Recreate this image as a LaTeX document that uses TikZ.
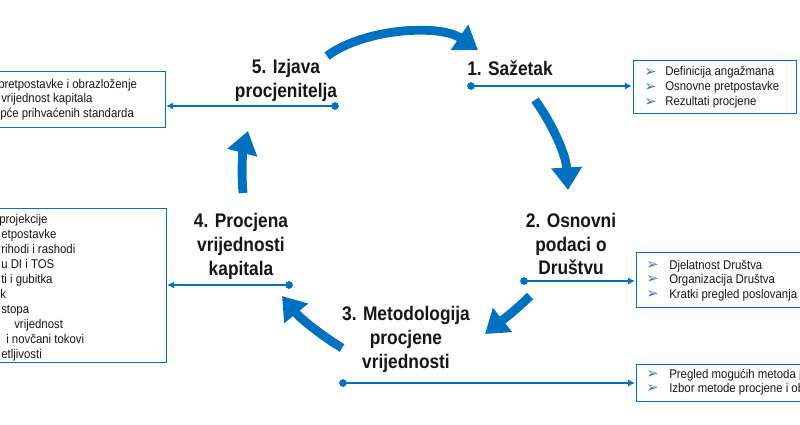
\documentclass[tikz,border=0pt]{standalone}
\usepackage{fontspec}
\setmainfont{Liberation Sans}
\newfontfamily\labelfont[FakeStretch=0.88]{Liberation Sans}
\newfontfamily\listfont[FakeStretch=0.9]{Liberation Sans}
\newfontfamily\bulletfont{DejaVu Sans}
\usetikzlibrary{arrows.meta,positioning}
\definecolor{cycleblue}{RGB}{0,112,192}
\definecolor{bulletblue}{RGB}{60,120,190}
\definecolor{textdark}{RGB}{22,22,22}
\tikzset{>=Latex,
  cyclearrow/.style={line width=6.3pt, cycleblue, -{Triangle[width=21pt,length=16pt]}},
  link/.style={line width=1.6pt, cycleblue, -{Latex[length=5pt,width=5pt]}},
  dot/.style={circle, fill=cycleblue, inner sep=0pt, minimum size=5.5pt},
  steplabel/.style={font=\labelfont\bfseries\fontsize{14}{17}\selectfont, text=textdark, align=center, inner sep=0pt},
  listbox/.style={draw=cycleblue, line width=0.7pt},
  listline/.style={font=\listfont\fontsize{9}{11}\selectfont, text=textdark, anchor=base west, inner sep=0pt},
  bullet/.style={font=\bulletfont\fontsize{10.5}{12}\selectfont, text=bulletblue, anchor=base west, inner sep=0pt}
}

\begin{document}
\begin{tikzpicture}[x=0.025cm,y=-0.025cm]
    \useasboundingbox (0,0) rectangle (800,424);
    \clip (0,0) rectangle (800,424);

    % step labels
    \node [steplabel] (s1) at (510,68.5) {1. Sažetak};
    \node [steplabel] (s2) at (571,244) {2. Osnovni\\podaci o\\Društvu};
    \node [steplabel] (s3) at (406,339) {3. Metodologija\\procjene\\vrijednosti};
    \node [steplabel] (s4) at (241,246) {4. Procjena\\vrijednosti\\kapitala};
    \node [steplabel] (s5) at (286,80.5) {5. Izjava\\procjenitelja};

    % cycle arrows
    \draw [cyclearrow] (327,56) .. controls (365,28) and (440,24) .. (478,50);
    \draw [cyclearrow] (535,100) .. controls (553,125) and (566,155) .. (568,190);
    \draw [cyclearrow] (530,296) .. controls (515,311) and (500,322) .. (485,334);
    \draw [cyclearrow] (342,348) .. controls (318,333) and (300,318) .. (282,296);
    \draw [cyclearrow] (243,193) .. controls (241,170) and (243,150) .. (248,131);

    % boxes
    \draw [listbox] (633,60) rectangle (796,113);
    \draw [listbox] (636,252) rectangle (805,307);
    \draw [listbox] (636,364) rectangle (805,401);
    \draw [listbox] (-5,208) rectangle (166,362);
    \draw [listbox] (-5,71) rectangle (165,127);

    % links from the steps to the boxes
    \node [dot] (d1) at (471,86) {};
    \node [dot] (d2) at (524,281) {};
    \node [dot] (d3) at (343,383) {};
    \node [dot] (d4) at (289,285) {};
    \node [dot] (d5) at (335,106) {};
    \coordinate (b1) at (632,86);
    \coordinate (b2) at (635,281);
    \coordinate (b3) at (635,383);
    \coordinate (b4) at (167,285);
    \coordinate (b5) at (166,106);
    \draw [link] (d1.center) -- (b1);
    \draw [link] (d2.center) -- (b2);
    \draw [link] (d3.center) -- (b3);
    \draw [link] (d4.center) -- (b4);
    \draw [link] (d5.center) -- (b5);

    % box 1
    \foreach \t [count=\i] in {Definicija angažmana,Osnovne pretpostavke,Rezultati procjene} {
      \node [bullet] (p1\i) at (644,76+15*\i-15) {➢};
      \node [listline] (l1\i) at (665,75.7+15*\i-15) {\t};
    }
    % box 2
    \foreach \t [count=\i] in {Djelatnost Društva,Organizacija Društva,Kratki pregled poslovanja} {
      \node [bullet] (p2\i) at (646,269.3+14.5*\i-14.5) {➢};
      \node [listline] (l2\i) at (669,269+14.5*\i-14.5) {\t};
    }
    % box 3
    \foreach \t [count=\i] in {Pregled mogućih metoda p,Izbor metode procjene i ob} {
      \node [bullet] (p3\i) at (646,378.3+14*\i-14) {➢};
      \node [listline] (l3\i) at (669,378+14*\i-14) {\t};
    }
    % box 5
    \node [listline] (l51) at (-2,88) {pretpostavke i obrazloženje};
    \node [listline] (l52) at (1,102.5) {vrijednost kapitala};
    \node [listline] (l53) at (0,117) {pće prihvaćenih standarda};
    % box 4
    \node [listline] (l41) at (-1,223.3) {projekcije};
    \node [listline] (l42) at (1,238.3) {etpostavke};
    \node [listline] (l43) at (1,253.3) {rihodi i rashodi};
    \node [listline] (l44) at (1,268.3) {u DI i TOS};
    \node [listline] (l45) at (1,283.3) {ti i gubitka};
    \node [listline] (l46) at (0,298.3) {k};
    \node [listline] (l47) at (1,313.3) {stopa};
    \node [listline] (l48) at (14,328.3) {vrijednost};
    \node [listline] (l49) at (6,343.3) {i novčani tokovi};
    \node [listline] (l410) at (1,358.3) {etljivosti};
\end{tikzpicture}
\end{document}
